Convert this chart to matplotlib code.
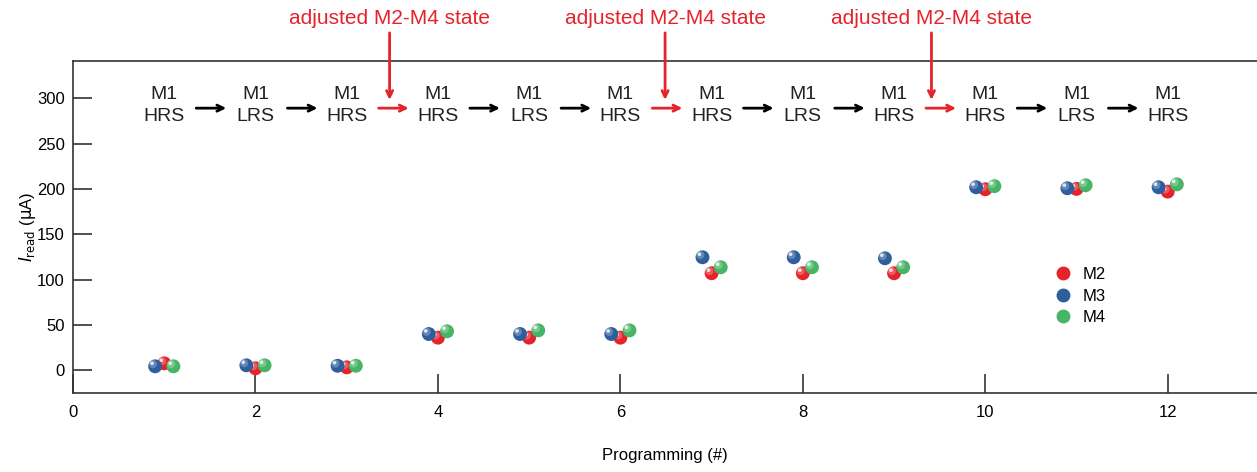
import numpy as np
import matplotlib.pyplot as plt
import matplotlib.transforms as mtransforms
from matplotlib.lines import Line2D

plt.rcParams['font.family'] = ['Liberation Sans', 'DejaVu Sans']

# Read current of M2-M4 after each programming step
steps = np.arange(1, 13)
m2 = [7.7, 2.2, 3.3, 36, 36, 36, 107, 107, 107, 199.6, 200, 197]
m3 = [4.4, 5.5, 5, 40, 40, 40, 124.6, 124.6, 123.5, 201.8, 200.7, 201.8]
m4 = [4.4, 5.5, 5, 43, 44, 44, 113.6, 113.6, 113.6, 203, 204, 205]

# M1 state at each step
m1_states = ['HRS', 'LRS', 'HRS', 'HRS', 'LRS', 'HRS',
             'HRS', 'LRS', 'HRS', 'HRS', 'LRS', 'HRS']
# steps after which the M2-M4 state was adjusted
adjusted_after = [3, 6, 9]
adjust_arrow_x = [3.47, 6.49, 9.41]

red = '#e5232b'
blue = '#2e5f9c'
green = '#47b565'
axis_col = '#333333'

fig = plt.figure(figsize=(12.57, 4.72), dpi=100)
ax = fig.add_axes([0.0581, 0.1674, 0.942, 0.7034])

# small horizontal shift so the three cells don't sit on top of each other
series = [(m2, red, 0.0, 'M2', 3), (m3, blue, -0.1, 'M3', 4), (m4, green, 0.1, 'M4', 5)]
hl = mtransforms.offset_copy(ax.transData, fig=fig, x=-1.6, y=1.6, units='points')
hl2 = mtransforms.offset_copy(ax.transData, fig=fig, x=-2.2, y=2.2, units='points')
for vals, col, dx, name, z in series:
    x = steps + dx
    ax.scatter(x, vals, s=100, color=col, edgecolors='none', zorder=z)
    # sphere-like highlight
    ax.scatter(x, vals, s=35, color='white', alpha=0.25, edgecolors='none',
               transform=hl, zorder=z + 0.1)
    ax.scatter(x, vals, s=7, color='white', alpha=0.8, edgecolors='none',
               transform=hl2, zorder=z + 0.2)

# M1 state labels with transition arrows
for i, st in zip(steps, m1_states):
    ax.text(i, 292, 'M1\n' + st, ha='center', va='center', fontsize=14,
            linespacing=1.35, color='#222222')
for i in steps[:-1]:
    col = red if i in adjusted_after else 'black'
    ax.annotate('', xy=(i + 0.68, 289), xytext=(i + 0.35, 289),
                arrowprops=dict(arrowstyle='->,head_length=0.45,head_width=0.22',
                                color=col, lw=2, shrinkA=0, shrinkB=0))

for xa in adjust_arrow_x:
    ax.annotate('', xy=(xa, 298), xytext=(xa, 372), annotation_clip=False,
                arrowprops=dict(arrowstyle='->,head_length=0.45,head_width=0.22',
                                color=red, lw=2, shrinkA=0, shrinkB=0))
    ax.text(xa, 388, 'adjusted M2-M4 state', ha='center', va='center',
            fontsize=15, color=red, clip_on=False)

ax.set_xlim(0, 12.98)
ax.set_ylim(-25, 341)
ax.set_xticks(np.arange(0, 13, 2))
ax.set_yticks(np.arange(0, 301, 50))
ax.tick_params(direction='in', length=14, width=1.2, color=axis_col,
               labelsize=12, pad=6)
ax.tick_params(axis='x', pad=9)
ax.spines['right'].set_visible(False)
for sp in ['left', 'top', 'bottom']:
    ax.spines[sp].set_linewidth(1.2)
    ax.spines[sp].set_color(axis_col)

ax.set_xlabel('Programming (#)', fontsize=12, labelpad=20)
ax.set_ylabel(r'$I_{\mathrm{read}}$ ($\mathrm{\mu}$A)', fontsize=12, labelpad=-1)

handles = [Line2D([], [], ls='none', marker='o', ms=10, color=c, mec='none')
           for c in (red, blue, green)]
ax.legend(handles, ['M2', 'M3', 'M4'], frameon=False, fontsize=12,
          loc='upper left', bbox_to_anchor=(0.815, 0.425),
          handletextpad=0.6, labelspacing=0.4, handlelength=1.2)

fig.savefig('out.png', dpi=100)
